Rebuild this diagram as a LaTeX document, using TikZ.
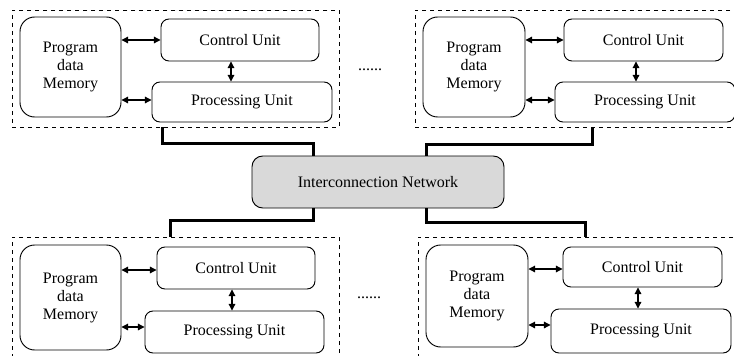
\documentclass[tikz,border=0pt]{standalone}
\usepackage{fontspec}
\setmainfont{Liberation Serif}
\usepackage{tikz}
\usetikzlibrary{arrows.meta,positioning,calc}

\begin{document}
\begin{tikzpicture}[x=0.75pt, y=-0.75pt,
  every node/.style={font=\fontsize{12}{13.5}\selectfont},
  cluster/.style={draw, dashed, line width=0.6pt, inner sep=0pt},
  membox/.style={draw, line width=0.7pt, rounded corners=11pt, align=center, inner sep=0pt},
  unitbox/.style={draw, line width=0.7pt, rounded corners=6pt, align=center, inner sep=0pt},
  netbox/.style={draw, line width=0.7pt, fill=black!15, rounded corners=8pt, inner sep=0pt},
  dbl/.style={{Triangle[length=5pt,width=5pt]}-{Triangle[length=5pt,width=5pt]}, line width=0.8pt},
  link/.style={line width=2.2pt}]

\clip (0,0) rectangle (734,356);

% Interconnection network
\node[netbox, minimum width=252*0.75pt, minimum height=52*0.75pt] (net) at (378,182) {Interconnection Network};

% Top left
\node[cluster, minimum width=327*0.75pt, minimum height=117*0.75pt] (clTL) at (175.5,68.5) {};
\node[membox, minimum width=101*0.75pt, minimum height=100*0.75pt] (memTL) at (70.5,67) {Program\\data\\Memory};
\node[unitbox, minimum width=158*0.75pt, minimum height=42*0.75pt] (ctlTL) at (240,40) {Control Unit};
\node[unitbox, minimum width=180*0.75pt, minimum height=40*0.75pt] (procTL) at (242,102) {Processing Unit};
\draw[dbl] (memTL.east |- ctlTL.west) -- (ctlTL.west);
\draw[dbl] ($(memTL.east |- procTL.west)+(0,-2)$) -- ($(procTL.west)+(0,-2)$);
\draw[dbl] ($(ctlTL.south)+(-9,0)$) -- ($(procTL.north -| ctlTL.south)+(-9,0)$);

% Top right
\node[cluster, minimum width=327*0.75pt, minimum height=117*0.75pt] (clTR) at (578.5,68.5) {};
\node[membox, minimum width=102*0.75pt, minimum height=100*0.75pt] (memTR) at (474,67) {Program\\data\\Memory};
\node[unitbox, minimum width=159*0.75pt, minimum height=42*0.75pt] (ctlTR) at (643.5,40) {Control Unit};
\node[unitbox, minimum width=180*0.75pt, minimum height=40*0.75pt] (procTR) at (645,102) {Processing Unit};
\draw[dbl] (memTR.east |- ctlTR.west) -- (ctlTR.west);
\draw[dbl] ($(memTR.east |- procTR.west)+(0,-2)$) -- ($(procTR.west)+(0,-2)$);
\draw[dbl] ($(ctlTR.south)+(-7.5,0)$) -- ($(procTR.north -| ctlTR.south)+(-7.5,0)$);

% Bottom left
\node[cluster, minimum width=327*0.75pt, minimum height=125*0.75pt] (clBL) at (175.5,299.5) {};
\node[membox, minimum width=101*0.75pt, minimum height=105*0.75pt] (memBL) at (70.5,297.5) {Program\\data\\Memory};
\node[unitbox, minimum width=158*0.75pt, minimum height=42*0.75pt] (ctlBL) at (236,268) {Control Unit};
\node[unitbox, minimum width=179*0.75pt, minimum height=42*0.75pt] (procBL) at (234.5,332) {Processing Unit};
\draw[dbl] ($(memBL.east |- ctlBL.west)+(0,2)$) -- ($(ctlBL.west)+(0,2)$);
\draw[dbl] ($(memBL.east |- procBL.west)+(0,-5)$) -- ($(procBL.west)+(0,-5)$);
\draw[dbl] ($(ctlBL.south)+(-4,0)$) -- ($(procBL.north -| ctlBL.south)+(-4,0)$);

% Bottom right
\node[cluster, minimum width=327*0.75pt, minimum height=125*0.75pt] (clBR) at (581.5,299.5) {};
\node[membox, minimum width=102*0.75pt, minimum height=102*0.75pt] (memBR) at (477,296) {Program\\data\\Memory};
\node[unitbox, minimum width=159*0.75pt, minimum height=40*0.75pt] (ctlBR) at (642.5,267) {Control Unit};
\node[unitbox, minimum width=180*0.75pt, minimum height=44*0.75pt] (procBR) at (641,331) {Processing Unit};
\draw[dbl] ($(memBR.east |- ctlBR.west)+(0,2)$) -- ($(ctlBR.west)+(0,2)$);
\draw[dbl] ($(memBR.east |- procBR.west)+(0,-6)$) -- ($(procBR.west)+(0,-6)$);
\draw[dbl] ($(ctlBR.south)+(-4.5,0)$) -- ($(procBR.north -| ctlBR.south)+(-4.5,0)$);

% dots between clusters
\node (dotsT) at (370,70) {......};
\node (dotsB) at (369,298) {......};

% Links to the network
\draw[link] ($(clTL.south west)+(151,0)$) -- ++(0,16) -| ($(net.north west)+(62,0)$);
\draw[link] ($(clTR.south west)+(178,0)$) -- ++(0,17) -| ($(net.north east)+(-78,0)$);
\draw[link] ($(net.south west)+(62,0)$) -- ++(0,12) -| ($(clBL.north west)+(159,0)$);
\draw[link] ($(net.south east)+(-78,0)$) -- ++(0,14) -| ($(clBR.north west)+(168,0)$);

\end{tikzpicture}
\end{document}
